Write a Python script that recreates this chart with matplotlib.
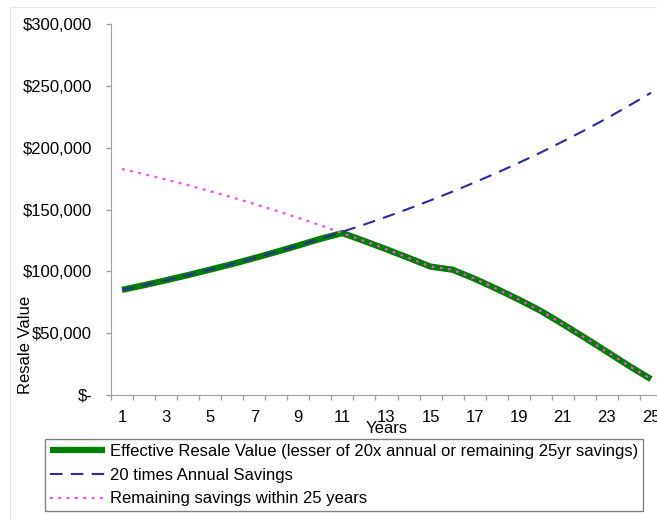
import numpy as np
import matplotlib.pyplot as plt
from matplotlib.patches import Rectangle
from matplotlib.ticker import FuncFormatter, FixedLocator

plt.rcParams['font.family'] = ['Liberation Sans', 'DejaVu Sans']
plt.rcParams['lines.scale_dashes'] = False

years = list(range(1, 26))
# 20 x annual savings, per year
times_20 = [85000, 88800, 92800, 97000, 101400, 105900, 110700, 115700, 120900,
            126300, 132000, 137900, 144100, 150600, 157400, 164500, 171900,
            179600, 187700, 196100, 205000, 214200, 223800, 233900, 244400]
# savings still to come before year 25
remaining = [182700, 178600, 174200, 169600, 164800, 159800, 154500, 149000,
             143200, 137200, 130900, 124500, 117800, 110900, 103800, 101300,
             94000, 85800, 77200, 68000, 57300, 46300, 35000, 23600, 12800]
effective = np.minimum(times_20, remaining)

fig = plt.figure(figsize=(6.57, 5.2), dpi=100)
# faint outer frame
fig.add_artist(Rectangle((10/657, -0.05), 1.0, 1.05 - 7/520, transform=fig.transFigure,
                         fill=False, edgecolor='#e4e4e4', lw=0.8))
ax = fig.add_axes([111/657, 125/520, 551/657, 371/520])

ax.plot(years, effective, color='#008000', lw=4.5, solid_capstyle='butt',
        label='Effective Resale Value (lesser of 20x annual or remaining 25yr savings)', zorder=2)
ax.plot(years, times_20, color='#2b2ba8', lw=1.5, dashes=(9, 6),
        label='20 times Annual Savings', zorder=3)
ax.plot(years, remaining, color='#ff40ff', lw=1.6, dashes=(2, 4),
        label='Remaining savings within 25 years', zorder=3)

ax.set_xlim(0.5, 25.5)
ax.set_ylim(0, 300000)
ax.set_yticks(range(0, 300001, 50000))
ax.yaxis.set_major_formatter(FuncFormatter(lambda v, _: '$-' if v == 0 else f'${v:,.0f}'))
ax.xaxis.set_major_locator(FixedLocator(years[::2]))
ax.xaxis.set_minor_locator(FixedLocator(np.arange(0.5, 26, 1)))

for s in ['top', 'right']:
    ax.spines[s].set_visible(False)
for s in ['left', 'bottom']:
    ax.spines[s].set_color('#a0a0a0')

ax.tick_params(axis='y', length=3.6, width=1, color='#a0a0a0', pad=10, labelsize=12)
ax.tick_params(axis='x', which='major', length=0, pad=11, labelsize=12)
ax.tick_params(axis='x', which='minor', length=3.6, width=1, color='#a0a0a0')

ax.set_xlabel('Years', fontsize=12)
ax.xaxis.set_label_coords(0.5, -0.071)
ax.set_ylabel('Resale Value', fontsize=12)
ax.yaxis.set_label_coords(-0.1416, 0.135)

fig.legend(loc='upper left', bbox_to_anchor=(45/657, 1 - 439/520), bbox_transform=fig.transFigure,
           fontsize=12, frameon=True, fancybox=False, edgecolor='#808080', framealpha=1,
           handlelength=3.3, handletextpad=0.3, borderaxespad=0, borderpad=0.3,
           labelspacing=0.52)

fig.savefig('out.png', dpi=100)
